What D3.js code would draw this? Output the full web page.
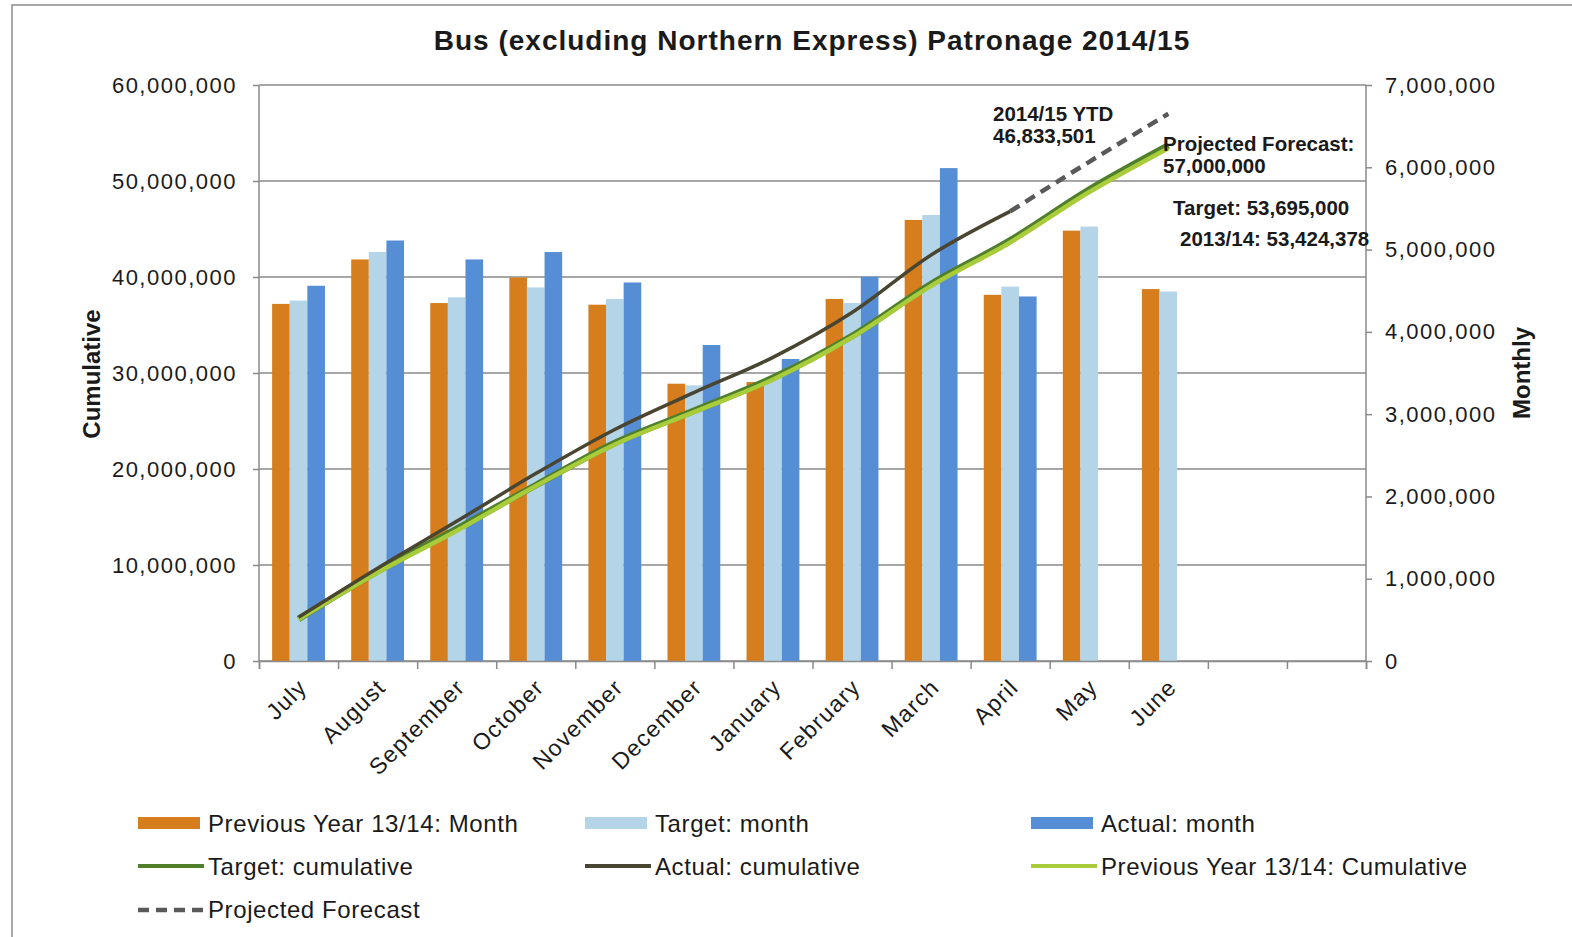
<!DOCTYPE html>
<html>
<head>
<meta charset="utf-8">
<script src="https://cdn.jsdelivr.net/npm/d3@7"></script>
<style>
body{margin:0;background:#fff;}
text{font-family:"Liberation Sans",Arial,sans-serif;fill:#1a1a1a;}
</style>
</head>
<body>
<div id="chart"></div>
<script>
// data
var months=['July','August','September','October','November','December','January','February','March','April','May','June']
var prevMonth=[4.34,4.88,4.35,4.66,4.33,3.37,3.39,4.40,5.36,4.45,5.23,4.52].map(v=>v*1e6)
var targetMonth=[4.38,4.97,4.42,4.54,4.40,3.35,3.44,4.35,5.42,4.55,5.28,4.49].map(v=>v*1e6)
var actualMonth=[4.56,5.11,4.88,4.97,4.60,3.84,3.67,4.67,5.99,4.43].map(v=>v*1e6)
var targetCum=[4.38,9.35,13.77,18.31,22.71,26.06,29.50,33.85,39.27,43.82,49.10,53.70].map(v=>v*1e6)
var actualCum=[4.56,9.67,14.55,19.52,24.12,27.96,31.63,36.30,42.29,46.83].map(v=>v*1e6)
var prevCum=[4.34,9.22,13.57,18.23,22.56,25.93,29.32,33.72,39.08,43.60,48.85,53.42].map(v=>v*1e6)
var forecastIdx=[9,10,11]
var forecast=[46.83,52.0,57.0].map(v=>v*1e6)
var leftTicks=[0,10e6,20e6,30e6,40e6,50e6,60e6]
var rightTicks=[0,1e6,2e6,3e6,4e6,5e6,6e6,7e6]
var barSeries=['Previous Year 13/14: Month','Target: month','Actual: month']
var lineSeries=['Target: cumulative','Actual: cumulative','Previous Year 13/14: Cumulative']
var colors={prev:'#d67e1e',target:'#b4d4e7',actual:'#558ed5',tcum:'#4f7f2a',acum:'#4a4530',pcum:'#a8cc3a',fc:'#595959'}

var W=1572,H=937
var svg=d3.select('#chart').append('svg').attr('width',W).attr('height',H)
svg.append('rect').attr('x',12).attr('y',5).attr('width',1600).attr('height',1000)
    .attr('fill','none').attr('stroke','#8c8c8c').attr('stroke-width',1.5)

var pl=259,pr=1366,pt=85,pb=661
var slots=d3.range(14)
var x0=d3.scaleBand().domain(slots).range([pl,pr]).padding(0)
var x1=d3.scaleBand().domain([0,1,2]).range([0,x0.bandwidth()]).paddingInner(0).paddingOuter(0.745)
var xb=d3.scaleLinear().domain([0,14]).range([pl,pr])
var yL=d3.scaleLinear().domain([0,60e6]).range([pb,pt])
var yR=d3.scaleLinear().domain([0,7e6]).range([pb,pt])
var cx=i=>x0(i)+x0.bandwidth()/2

// title
svg.append('text').attr('x',812).attr('y',50).attr('text-anchor','middle')
    .style('font-weight','bold').style('font-size','28px').style('letter-spacing','1px')
    .text('Bus (excluding Northern Express) Patronage 2014/15')

// grid
svg.append('g').selectAll('line').data(leftTicks).join('line')
    .attr('x1',pl).attr('x2',pr).attr('y1',d=>yL(d)).attr('y2',d=>yL(d))
    .attr('stroke','#8a8a8a').attr('stroke-width',1.5)

// bars
var groups=[prevMonth,targetMonth,actualMonth]
var gcol=[colors.prev,colors.target,colors.actual]
groups.forEach(function(vals,k){
    svg.append('g').selectAll('rect').data(vals).join('rect')
        .attr('x',(d,i)=>x0(i)+x1(k))
        .attr('width',x1.bandwidth())
        .attr('y',d=>yR(d))
        .attr('height',d=>pb-yR(d))
        .attr('fill',gcol[k])
})

// axes
var fmt=d3.format(',')
var la=svg.append('g').attr('transform',`translate(${pl},0)`)
    .call(d3.axisLeft(yL).tickValues(leftTicks).tickFormat(fmt).tickSize(6).tickPadding(16))
var ra=svg.append('g').attr('transform',`translate(${pr},0)`)
    .call(d3.axisRight(yR).tickValues(rightTicks).tickFormat(fmt).tickSize(6).tickPadding(13))
var ba=svg.append('g').attr('transform',`translate(0,${pb})`)
    .call(d3.axisBottom(xb).ticks(14).tickFormat('').tickSize(8))
;[la,ra,ba].forEach(function(a){
    a.select('.domain').attr('stroke','#8a8a8a').attr('stroke-width',1.5)
    a.selectAll('.tick line').attr('stroke','#8a8a8a').attr('stroke-width',1.5)
    a.selectAll('text').style('font-family','"Liberation Sans",Arial,sans-serif')
        .style('font-size','22px').style('letter-spacing','1.5px').attr('fill','#333')
})
la.select('.domain').attr('d',`M0,${pt}V${pb}`)
ra.select('.domain').attr('d',`M0,${pt}V${pb}`)

// month labels
svg.append('g').selectAll('text').data(months).join('text')
    .attr('transform',(d,i)=>`translate(${cx(i)+4},${pb+22}) rotate(-45)`)
    .attr('text-anchor','end').attr('dy','0.35em')
    .style('font-size','23px').style('letter-spacing','1.3px').attr('fill','#333')
    .text(d=>d)

// axis titles
svg.append('text').attr('transform','translate(100,374) rotate(-90)').attr('text-anchor','middle')
    .style('font-weight','bold').style('font-size','24px')
    .text('Cumulative')
svg.append('text').attr('transform','translate(1530,373) rotate(-90)').attr('text-anchor','middle')
    .style('font-weight','bold').style('font-size','24px')
    .text('Monthly')

// lines
var line=d3.line().x((d,i)=>cx(i)).y(d=>yL(d)).curve(d3.curveMonotoneX)
svg.append('path').datum(targetCum).attr('d',line).attr('fill','none').attr('stroke',colors.tcum).attr('stroke-width',6.5)
svg.append('path').datum(prevCum).attr('d',line).attr('fill','none').attr('stroke',colors.pcum).attr('stroke-width',4.5)
var fline=d3.line().x((d,i)=>cx(forecastIdx[i])).y(d=>yL(d)).curve(d3.curveMonotoneX)
svg.append('path').datum(forecast).attr('d',fline).attr('fill','none').attr('stroke',colors.fc)
    .attr('stroke-width',4.5).attr('stroke-dasharray','11,7')
svg.append('path').datum(actualCum).attr('d',line).attr('fill','none').attr('stroke',colors.acum).attr('stroke-width',3.5)

// annotations
function note(x,y,lines){
    var t=svg.append('text').attr('x',x).attr('y',y)
        .style('font-weight','bold').style('font-size','20.5px').attr('fill','#111')
    lines.forEach((s,i)=>t.append('tspan').attr('x',x).attr('dy',i?22:0).text(s))
}
note(993,121,['2014/15 YTD','46,833,501'])
note(1163,151,['Projected Forecast:','57,000,000'])
note(1173,215,['Target: 53,695,000'])
note(1180,246,['2013/14: 53,424,378'])

// legend
var leg=svg.append('g')
var lx=[138,585,1031]
barSeries.forEach(function(s,k){
    leg.append('rect').attr('x',lx[k]).attr('y',817).attr('width',62).attr('height',12).attr('fill',gcol[k])
    leg.append('text').attr('x',lx[k]+70).attr('y',832).style('font-size','24px').style('letter-spacing','0.6px').attr('fill','#333').text(s)
})
var lcol=[colors.tcum,colors.acum,colors.pcum]
lineSeries.forEach(function(s,k){
    leg.append('line').attr('x1',lx[k]).attr('x2',lx[k]+66).attr('y1',866).attr('y2',866).attr('stroke',lcol[k]).attr('stroke-width',4)
    leg.append('text').attr('x',lx[k]+70).attr('y',875).style('font-size','24px').style('letter-spacing','0.6px').attr('fill','#333').text(s)
})
leg.append('line').attr('x1',lx[0]).attr('x2',lx[0]+66).attr('y1',910).attr('y2',910).attr('stroke',colors.fc).attr('stroke-width',4.5).attr('stroke-dasharray','11,7')
leg.append('text').attr('x',lx[0]+70).attr('y',918).style('font-size','24px').style('letter-spacing','0.6px').attr('fill','#333').text('Projected Forecast')
</script>
</body>
</html>
